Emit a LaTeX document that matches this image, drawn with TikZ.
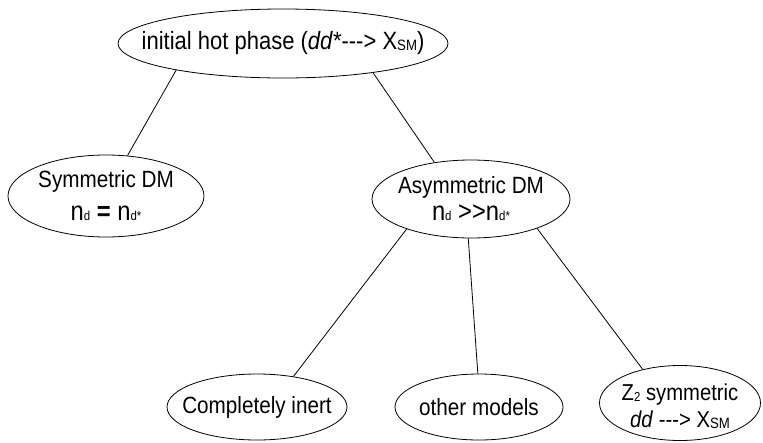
\documentclass[tikz,border=0pt]{standalone}
\usepackage{fontspec}
\setmainfont[FakeStretch=0.88]{Liberation Sans}
\usetikzlibrary{shapes.geometric}

% small lowered indices
\newcommand\idxsm{\raisebox{-1pt}{\fontsize{15}{15}\selectfont SM}}
\newcommand\numd[1]{n\raisebox{0pt}{\fontsize{13}{13}\selectfont #1}}

\tikzset{
  bubble/.style={draw, ellipse, line width=0.8pt, inner sep=0pt},
  link/.style={line width=0.8pt},
  lbl/.style={align=center, inner sep=0pt, font=\fontsize{23.5}{25}\selectfont},
}

\begin{document}
\begin{tikzpicture}[x=1pt, y=1pt]
\useasboundingbox (0,0) rectangle (763,-442);

% ellipses
\node[bubble, minimum width=330pt, minimum height=69pt] (hot) at (283,-43.5) {};
\node[bubble, minimum width=196pt, minimum height=82pt] (sym) at (106,-196) {};
\node[bubble, minimum width=198pt, minimum height=78pt] (asym) at (471,-199) {};
\node[bubble, minimum width=180pt, minimum height=66pt] (inert) at (257,-407) {};
\node[bubble, minimum width=168pt, minimum height=66pt] (other) at (479,-407) {};
\node[bubble, minimum width=161pt, minimum height=75pt] (ztwo) at (680,-403) {};

% labels
\node[lbl, font=\fontsize{25}{30}\selectfont] (hotT) at (hot.center)
  {initial hot phase (\textit{dd}*-{}-{}-> X\idxsm)};
\node[lbl] (symT) at (sym.center)
  {Symmetric DM\\[8pt]{\fontsize{27}{27}\selectfont \numd{d} \textbf{=} \numd{d*}}};
\node[lbl] (asymT) at (asym.center)
  {Asymmetric DM\\[2pt]{\fontsize{27}{27}\selectfont \numd{d} >{}>\numd{d*}}};
\node[lbl] (inertT) at (inert.center) {Completely inert};
\node[lbl] (otherT) at (other.center) {other models};
\node[lbl, font=\fontsize{23}{27}\selectfont] (ztwoT) at ([yshift=-3pt]ztwo.center)
  {Z\raisebox{-1pt}{\fontsize{13}{13}\selectfont 2} symmetric\\\textit{dd} -{}-{}-> X\idxsm};

% connectors
\draw[link] (hot.-166) -- (sym.62);
\draw[link] (hot.-18) -- (asym.135);
\draw[link] (asym.-155) -- (inert.40);
\draw[link] (asym.-94) -- (other.92);
\draw[link] (asym.-24) -- (ztwo.138);
\end{tikzpicture}
\end{document}
